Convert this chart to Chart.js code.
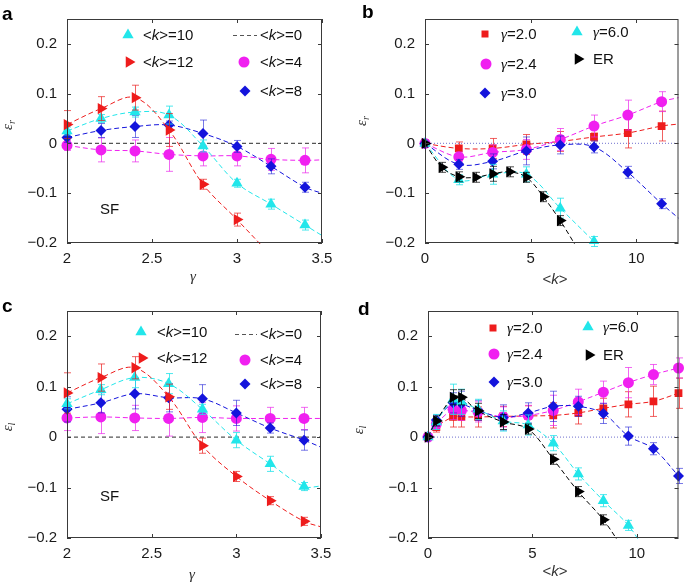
<!DOCTYPE html>
<html>
<head>
<meta charset="utf-8">
<script src="https://cdn.jsdelivr.net/npm/chart.js@4.4.1/dist/chart.umd.min.js"></script>
<style>
  html, body { margin: 0; padding: 0; background: #fff; }
  #fig { position: relative; width: 685px; height: 582px; }
  .panel { position: absolute; }
</style>
</head>
<body>
<div id="fig">
  <div class="panel" style="left:0;top:0;width:340px;height:290px"><canvas id="pa"></canvas></div>
  <div class="panel" style="left:340px;top:0;width:345px;height:290px"><canvas id="pb"></canvas></div>
  <div class="panel" style="left:0;top:290px;width:340px;height:292px"><canvas id="pc"></canvas></div>
  <div class="panel" style="left:340px;top:290px;width:345px;height:292px"><canvas id="pd"></canvas></div>
</div>
<script>
// ---- tick labels ----
const epsTicks = [-0.2, -0.1, 0, 0.1, 0.2];
const gammaTicks = [2, 2.5, 3, 3.5];
const kTicks = [0, 5, 10];

// ---- panel a: eps_r vs gamma (SF) ----
const gammaX = [2.0, 2.2, 2.4, 2.6, 2.8, 3.0, 3.2, 3.4];
const aK10 = [0.025, 0.05, 0.063, 0.057, -0.005, -0.08, -0.122, -0.164];
const aK10Err = [0.008, 0.008, 0.01, 0.018, 0.012, 0.008, 0.01, 0.01];
const aK10Tail = [[3.5, -0.185]];
const aK12X = [2.0, 2.2, 2.4, 2.6, 2.8, 3.0];
const aK12 = [0.038, 0.07, 0.092, 0.027, -0.082, -0.153];
const aK12Err = [0.028, 0.024, 0.025, 0.033, 0.01, 0.013];
const aK12Tail = [[3.2, -0.225]];
const aK8 = [0.012, 0.026, 0.034, 0.037, 0.02, -0.006, -0.046, -0.088];
const aK8Err = [0.01, 0.014, 0.022, 0.008, 0.027, 0.012, 0.015, 0.01];
const aK8Tail = [[3.5, -0.1]];
const aK4 = [-0.004, -0.013, -0.015, -0.022, -0.025, -0.025, -0.032, -0.034];
const aK4Err = [0.01, 0.024, 0.022, 0.034, 0.02, 0.02, 0.022, 0.025];
const aK4Tail = [[3.5, -0.033]];

// ---- panel b: eps_r vs <k> ----
const bX = [0, 1.6, 3.2, 4.8, 6.4, 8.0, 9.6, 11.2];
const bG20 = [0, -0.01, -0.01, -0.002, 0.004, 0.013, 0.021, 0.035];
const bG20Err = [0, 0.013, 0.02, 0.02, 0.02, 0.008, 0.03, 0.03];
const bG20Tail = [[12, 0.039]];
const bG24 = [0, -0.027, -0.018, -0.012, 0.008, 0.035, 0.057, 0.084];
const bG24Err = [0, 0.01, 0.015, 0.02, 0.022, 0.022, 0.03, 0.02];
const bG24Tail = [[12, 0.092]];
const bG30 = [0, -0.042, -0.036, -0.015, -0.003, -0.007, -0.058, -0.121];
const bG30Err = [0, 0.01, 0.015, 0.028, 0.018, 0.012, 0.012, 0.01];
const bG30Tail = [[12, -0.15]];
const bG60X = [0, 1.6, 3.2, 4.8, 6.4, 8.0];
const bG60 = [0, -0.073, -0.062, -0.062, -0.13, -0.197];
const bG60Err = [0, 0.01, 0.02, 0.015, 0.02, 0.01];
const bERX = [0, 0.8, 1.6, 2.4, 3.2, 4.0, 4.8, 5.6, 6.4];
const bER = [0, -0.048, -0.067, -0.068, -0.061, -0.057, -0.068, -0.107, -0.155];
const bERErr = [0, 0.01, 0.01, 0.01, 0.015, 0.01, 0.01, 0.01, 0.01];
const bERTail = [[7.2, -0.21]];

// ---- panel c: eps_l vs gamma (SF) ----
const cK10 = [0.066, 0.094, 0.118, 0.106, 0.055, -0.006, -0.053, -0.098];
const cK10Err = [0.01, 0.01, 0.02, 0.02, 0.01, 0.015, 0.015, 0.008];
const cK10Tail = [[3.5, -0.097]];
const cK12 = [0.0875, 0.118, 0.1375, 0.08, -0.017, -0.078, -0.126, -0.167];
const cK12Err = [0.04, 0.027, 0.022, 0.025, 0.015, 0.01, 0.008, 0.008];
const cK12Tail = [[3.5, -0.178]];
const cK8 = [0.055, 0.068, 0.086, 0.078, 0.076, 0.048, 0.018, -0.006];
const cK8Err = [0.025, 0.02, 0.03, 0.028, 0.028, 0.025, 0.01, 0.02];
const cK8Tail = [[3.5, -0.02]];
const cK4 = [0.038, 0.04, 0.038, 0.037, 0.039, 0.037, 0.037, 0.037];
const cK4Err = [0.025, 0.033, 0.025, 0.035, 0.03, 0.025, 0.022, 0.022];
const cK4Tail = [[3.5, 0.037]];

// ---- panel d: eps_l vs <k> ----
const dX = [0, 0.4, 1.2, 1.6, 2.4, 3.6, 4.8, 6.0, 7.2, 8.4, 9.6, 10.8, 12.0];
const dG20 = [0, 0.02, 0.04, 0.04, 0.04, 0.041, 0.042, 0.043, 0.048, 0.057, 0.065, 0.071, 0.087];
const dG20Err = [0, 0.01, 0.02, 0.02, 0.02, 0.02, 0.02, 0.025, 0.022, 0.02, 0.025, 0.03, 0.03];
const dG24 = [0, 0.026, 0.055, 0.053, 0.05, 0.04, 0.043, 0.053, 0.07, 0.089, 0.108, 0.124, 0.137];
const dG24Err = [0, 0.01, 0.02, 0.02, 0.02, 0.02, 0.02, 0.03, 0.025, 0.022, 0.03, 0.02, 0.02];
const dG30 = [0, 0.034, 0.068, 0.066, 0.053, 0.039, 0.048, 0.061, 0.061, 0.047, 0.002, -0.023, -0.077];
const dG30Err = [0, 0.01, 0.02, 0.025, 0.02, 0.025, 0.02, 0.03, 0.02, 0.02, 0.018, 0.012, 0.015];
const dG60X = [0, 0.4, 1.2, 1.6, 2.4, 3.6, 4.8, 6.0, 7.2, 8.4, 9.6];
const dG60 = [0, 0.03, 0.075, 0.07, 0.055, 0.032, 0.024, -0.012, -0.073, -0.126, -0.175];
const dG60Err = [0, 0.015, 0.03, 0.025, 0.02, 0.02, 0.02, 0.015, 0.012, 0.012, 0.01];
const dG60Tail = [[10.4, -0.225]];
const dERX = [0, 0.4, 1.2, 1.6, 2.4, 3.6, 4.8, 6.0, 7.2, 8.4];
const dER = [0, 0.032, 0.079, 0.079, 0.052, 0.03, 0.016, -0.044, -0.108, -0.164];
const dERErr = [0, 0.01, 0.015, 0.015, 0.015, 0.015, 0.01, 0.01, 0.01, 0.01];
const dERTail = [[9.4, -0.225]];

const SANS = '"Liberation Sans", Arial, Helvetica, sans-serif';
const SERIF = '"Liberation Serif", "Times New Roman", serif';

const CYAN = { color: '#22e6ea', err: 'rgba(34,226,232,0.8)', shape: 'triangle', rot: 0, r: 6.5 };
const RED_TRI = { color: '#ee1c1c', err: 'rgba(235,30,30,0.7)', shape: 'triangle', rot: 90, r: 6.5 };
const RED_SQ = { color: '#ee1c1c', err: 'rgba(235,30,30,0.7)', shape: 'rect', rot: 0, r: 5.5 };
const MAG = { color: '#f020f0', err: 'rgba(235,40,235,0.7)', shape: 'circle', rot: 0, r: 5.5 };
const BLUE = { color: '#1414dc', err: 'rgba(30,30,215,0.6)', shape: 'rectRot', rot: 0, r: 5.5 };
const BLACK = { color: '#000000', err: 'rgba(0,0,0,0.7)', shape: 'triangle', rot: 90, r: 6.5 };

function series(xs, ys, err, tail, sty) {
    const data = xs.map((x, i) => ({ x: x, y: ys[i] }));
    tail.forEach((p) => data.push({ x: p[0], y: p[1] }));
    const n = xs.length;
    return {
        data: data,
        err: err,
        errColor: sty.err,
        borderColor: sty.color,
        backgroundColor: sty.color,
        borderWidth: 1,
        borderDash: [5, 3],
        tension: 0.35,
        pointStyle: sty.shape,
        pointRotation: sty.rot,
        pointRadius: (c) => (c.dataIndex < n ? sty.r : 0),
        pointBackgroundColor: sty.color,
        pointBorderWidth: 0,
        clip: { left: 10, right: 10, top: 0, bottom: 1 },
    };
}

function refLine(x0, x1, color, dash, width) {
    return {
        data: [{ x: x0, y: 0 }, { x: x1, y: 0 }],
        borderColor: color,
        borderWidth: width,
        borderDash: dash,
        pointRadius: 0,
        tension: 0,
    };
}

const kLab = (n) => [['<', 's'], ['k', 'i'], ['>=' + n, 's']];
const gLab = (v) => [['\u03b3', 'g'], ['=' + v, 's']];

function fontOf(kind, size) {
    if (kind === 'i') return 'italic ' + size + 'px ' + SANS;
    if (kind === 'g') return 'italic ' + size + 'px ' + SERIF;
    if (kind === 'b') return 'bold ' + size + 'px ' + SANS;
    return size + 'px ' + SANS;
}

function drawParts(ctx, parts, x, y, size, center) {
    let w = 0;
    parts.forEach(([t, k]) => {
        ctx.font = fontOf(k, size);
        w += ctx.measureText(t).width;
    });
    let cx = center ? x - w / 2 : x;
    ctx.textAlign = 'left';
    ctx.textBaseline = 'middle';
    parts.forEach(([t, k]) => {
        ctx.font = fontOf(k, size);
        ctx.fillText(t, cx, y);
        cx += ctx.measureText(t).width;
    });
}

const decoById = {};

const panelPlugin = {
    id: 'panelDeco',
    beforeDatasetDraw(chart, args) {
        const ds = chart.data.datasets[args.index];
        if (!ds.err) return;
        const ctx = chart.ctx;
        const xs = chart.scales.x;
        const ys = chart.scales.y;
        ctx.save();
        ctx.strokeStyle = ds.errColor;
        ctx.lineWidth = 1;
        ctx.beginPath();
        ds.err.forEach((e, i) => {
            if (!e) return;
            const p = ds.data[i];
            const px = Math.round(xs.getPixelForValue(p.x)) + 0.5;
            const y1 = ys.getPixelForValue(p.y - e);
            const y2 = ys.getPixelForValue(p.y + e);
            ctx.moveTo(px, y1);
            ctx.lineTo(px, y2);
            ctx.moveTo(px - 3.5, y1);
            ctx.lineTo(px + 3.5, y1);
            ctx.moveTo(px - 3.5, y2);
            ctx.lineTo(px + 3.5, y2);
        });
        ctx.stroke();
        ctx.restore();
    },
    afterDraw(chart) {
        const o = decoById[chart.canvas.id];
        const ctx = chart.ctx;
        const a = chart.chartArea;
        const xs = chart.scales.x;
        const ys = chart.scales.y;
        ctx.save();

        // frame with inward ticks
        ctx.strokeStyle = '#3a3a3a';
        ctx.lineWidth = 1;
        ctx.strokeRect(a.left + 0.5, a.top + 0.5, a.right - a.left - 1, a.bottom - a.top - 1);
        ctx.beginPath();
        xs.ticks.forEach((t) => {
            const px = Math.round(xs.getPixelForValue(t.value)) + 0.5;
            ctx.moveTo(px, a.bottom);
            ctx.lineTo(px, a.bottom - 4);
            ctx.moveTo(px, a.top);
            ctx.lineTo(px, a.top + 4);
        });
        ys.ticks.forEach((t) => {
            const py = Math.round(ys.getPixelForValue(t.value)) + 0.5;
            ctx.moveTo(a.left, py);
            ctx.lineTo(a.left + 4, py);
            ctx.moveTo(a.right, py);
            ctx.lineTo(a.right - 4, py);
        });
        ctx.stroke();

        // legend
        o.legend.forEach((it) => {
            if (it.line) {
                ctx.save();
                ctx.strokeStyle = it.line;
                ctx.lineWidth = 1.2;
                ctx.setLineDash([4, 3]);
                ctx.beginPath();
                ctx.moveTo(it.x1, it.y + 0.5);
                ctx.lineTo(it.x2, it.y + 0.5);
                ctx.stroke();
                ctx.restore();
            } else {
                ctx.fillStyle = it.m.color;
                Chart.helpers.drawPoint(ctx, {
                    pointStyle: it.m.shape,
                    rotation: it.m.rot,
                    radius: it.m.r * (it.m.shape === 'rect' ? 0.9 : 1),
                    borderWidth: 0,
                }, it.x, it.y);
            }
            ctx.fillStyle = '#111';
            drawParts(ctx, it.parts, it.tx, it.y + 1, 15, false);
        });

        // panel letter
        ctx.fillStyle = '#000';
        ctx.font = fontOf('b', 19);
        ctx.textAlign = 'left';
        ctx.textBaseline = 'alphabetic';
        ctx.fillText(o.letter[0], o.letter[1], o.letter[2]);

        // note
        if (o.note) {
            ctx.fillStyle = '#111';
            drawParts(ctx, [[o.note[0], 's']], o.note[1], o.note[2], 15, false);
        }

        // axis titles
        ctx.fillStyle = '#333';
        drawParts(ctx, o.xTitle[0], o.xTitle[1], o.xTitle[2], 15, true);

        ctx.save();
        ctx.translate(o.yTitle[1], o.yTitle[2]);
        ctx.rotate(-Math.PI / 2);
        ctx.textBaseline = 'alphabetic';
        ctx.textAlign = 'left';
        ctx.font = fontOf('g', 15);
        const we = ctx.measureText('\u03b5').width;
        ctx.font = fontOf('g', 10);
        const ws = ctx.measureText(o.yTitle[0]).width;
        const x0 = -(we + ws) / 2;
        ctx.font = fontOf('g', 15);
        ctx.fillText('\u03b5', x0, 4);
        ctx.font = fontOf('g', 10);
        ctx.fillText(o.yTitle[0], x0 + we, 7);
        ctx.restore();

        ctx.restore();
    },
};

function axis(min, max, ticks, pad, fit) {
    return {
        type: 'linear',
        min: min,
        max: max,
        grid: { display: false, drawTicks: false },
        border: { display: false },
        ticks: {
            padding: pad,
            color: '#1a1a1a',
            font: { family: SANS, size: 15 },
            autoSkip: false,
            maxRotation: 0,
            callback: (v) => String(v).replace('-', '\u2212'),
        },
        afterBuildTicks: (s) => {
            s.ticks = ticks.map((v) => ({ value: v }));
        },
        afterFit: fit,
    };
}

function makePanel(id, cfg, deco) {
    decoById[id] = deco;
    new Chart(document.getElementById(id), {
        type: 'line',
        data: { datasets: cfg.datasets },
        options: {
            responsive: true,
            maintainAspectRatio: false,
            animation: false,
            events: [],
            layout: { padding: { left: 0, top: cfg.top, right: cfg.right, bottom: 0 } },
            plugins: { legend: { display: false }, tooltip: { enabled: false } },
            scales: {
                x: axis(cfg.xMin, cfg.xMax, cfg.xTicks, 7, (s) => { s.height = cfg.xh; }),
                y: axis(-0.2, 0.25, epsTicks, 10, (s) => { s.width = cfg.yw; }),
            },
        },
        plugins: [panelPlugin],
    });
}

makePanel('pa', {
    xMin: 2, xMax: 3.5, xTicks: gammaTicks, top: 15, right: 18, yw: 67, xh: 47,
    datasets: [
        series(aK12X, aK12, aK12Err, aK12Tail, RED_TRI),
        series(gammaX, aK10, aK10Err, aK10Tail, CYAN),
        series(gammaX, aK8, aK8Err, aK8Tail, BLUE),
        series(gammaX, aK4, aK4Err, aK4Tail, MAG),
        refLine(2, 3.5, '#555', [4, 3], 1.2),
    ],
}, {
    letter: ['a', 2, 20],
    note: ['SF', 100, 210],
    xTitle: [[['\u03b3', 'g']], 193, 277],
    yTitle: ['r', 8, 125],
    legend: [
        { m: CYAN, x: 128, y: 35, tx: 143, parts: kLab(10) },
        { m: RED_TRI, x: 129, y: 62, tx: 143, parts: kLab(12) },
        { line: '#555', x1: 233, x2: 257, y: 35, tx: 260, parts: kLab(0) },
        { m: MAG, x: 244, y: 62, tx: 260, parts: kLab(4) },
        { m: BLUE, x: 245, y: 91, tx: 260, parts: kLab(8) },
    ],
});

makePanel('pb', {
    xMin: 0, xMax: 12, xTicks: kTicks, top: 15, right: 5, yw: 85, xh: 47,
    datasets: [
        series(bERX, bER, bERErr, bERTail, BLACK),
        series(bG60X, bG60, bG60Err, [], CYAN),
        series(bX, bG30, bG30Err, bG30Tail, BLUE),
        series(bX, bG24, bG24Err, bG24Tail, MAG),
        series(bX, bG20, bG20Err, bG20Tail, RED_SQ),
        refLine(0, 12, '#8c8cd8', [1, 2], 1.2),
    ],
}, {
    letter: ['b', 22, 18],
    xTitle: [[['<', 's'], ['k', 'i'], ['>', 's']], 215, 280],
    yTitle: ['r', 22, 121],
    legend: [
        { m: RED_SQ, x: 145, y: 34, tx: 161, parts: gLab('2.0') },
        { m: MAG, x: 146, y: 64, tx: 161, parts: gLab('2.4') },
        { m: BLUE, x: 145, y: 93, tx: 161, parts: gLab('3.0') },
        { m: CYAN, x: 237, y: 32, tx: 253, parts: gLab('6.0') },
        { m: BLACK, x: 238, y: 59, tx: 253, parts: [['ER', 's']] },
    ],
});

makePanel('pc', {
    xMin: 2, xMax: 3.5, xTicks: gammaTicks, top: 21, right: 19, yw: 67, xh: 44,
    datasets: [
        series(gammaX, cK12, cK12Err, cK12Tail, RED_TRI),
        series(gammaX, cK10, cK10Err, cK10Tail, CYAN),
        series(gammaX, cK8, cK8Err, cK8Tail, BLUE),
        series(gammaX, cK4, cK4Err, cK4Tail, MAG),
        refLine(2, 3.5, '#555', [4, 3], 1.2),
    ],
}, {
    letter: ['c', 2, 22],
    note: ['SF', 100, 207],
    xTitle: [[['\u03b3', 'g']], 192, 285],
    yTitle: ['l', 8, 137],
    legend: [
        { m: CYAN, x: 141, y: 42, tx: 157, parts: kLab(10) },
        { m: RED_TRI, x: 142, y: 68, tx: 157, parts: kLab(12) },
        { line: '#555', x1: 235, x2: 257, y: 44, tx: 260, parts: kLab(0) },
        { m: MAG, x: 245, y: 70, tx: 260, parts: kLab(4) },
        { m: BLUE, x: 245, y: 94, tx: 260, parts: kLab(8) },
    ],
});

makePanel('pd', {
    xMin: 0, xMax: 12, xTicks: kTicks, top: 21, right: 5, yw: 88, xh: 44,
    datasets: [
        series(dERX, dER, dERErr, dERTail, BLACK),
        series(dG60X, dG60, dG60Err, dG60Tail, CYAN),
        series(dX, dG30, dG30Err, [], BLUE),
        series(dX, dG24, dG24Err, [], MAG),
        series(dX, dG20, dG20Err, [], RED_SQ),
        refLine(0, 12, '#8c8cd8', [1, 2], 1.2),
    ],
}, {
    letter: ['d', 18, 25],
    xTitle: [[['<', 's'], ['k', 'i'], ['>', 's']], 215, 282],
    yTitle: ['l', 19, 140],
    legend: [
        { m: RED_SQ, x: 153, y: 38, tx: 167, parts: gLab('2.0') },
        { m: MAG, x: 154, y: 64, tx: 167, parts: gLab('2.4') },
        { m: BLUE, x: 154, y: 92, tx: 167, parts: gLab('3.0') },
        { m: CYAN, x: 248, y: 37, tx: 263, parts: gLab('6.0') },
        { m: BLACK, x: 249, y: 65, tx: 263, parts: [['ER', 's']] },
    ],
});
</script>
</body>
</html>
